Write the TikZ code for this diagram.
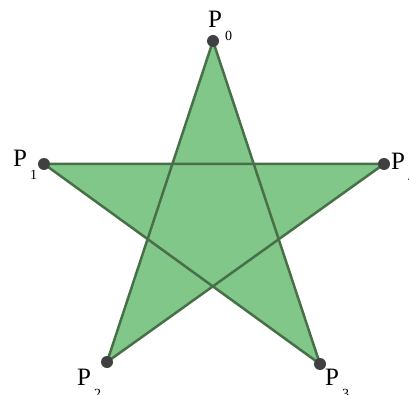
\documentclass[tikz,border=0pt]{standalone}
\usepackage{fontspec}
\setmainfont{Liberation Serif}
\usepackage{tikz}
\definecolor{stargreen}{RGB}{129,199,138}
\definecolor{edgegreen}{RGB}{72,112,72}
\definecolor{dotgray}{RGB}{64,64,66}
\tikzset{
	pt/.style = {circle, fill = dotgray, inner sep = 0pt, minimum size = 12pt},
	lbl/.style = {anchor = base west, inner sep = 0pt, font = \fontsize{25}{25}\selectfont}
}
\newcommand{\pname}[1]{P\hspace{3pt}\raisebox{-13pt}{\fontsize{14}{14}\selectfont #1}}

\begin{document}
\begin{tikzpicture}[x = 1pt, y = -1pt]
	\useasboundingbox (0,0) rectangle (409,395);
	\coordinate (p0) at (213,41);
	\coordinate (p1) at (44,164);
	\coordinate (p2) at (107,362);
	\coordinate (p3) at (320,364);
	\coordinate (p4) at (384,164);
	\fill [stargreen] (p0) -- (p3) -- (p1) -- (p4) -- (p2) -- cycle;
	\draw [edgegreen, line width = 2.5pt, line join = round] (p0) -- (p3) -- (p1) -- (p4) -- (p2) -- cycle;
	% dots on top
	\foreach \i in {0,...,4} \node [pt] (d\i) at (p\i) {};
	\node [lbl] (l0) at (208,28) {\pname{0}};
	\node [lbl] (l1) at (13,167) {\pname{1}};
	\node [lbl] (l2) at (77,385) {\pname{2}};
	\node [lbl] (l3) at (325,385) {\pname{3}};
	\node [lbl] (l4) at (391,170) {\pname{4}};
\end{tikzpicture}
\end{document}
